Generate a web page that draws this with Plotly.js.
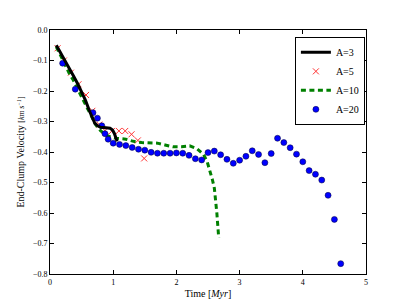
<!DOCTYPE html>
<html>
<head>
<meta charset="utf-8">
<script src="https://cdn.plot.ly/plotly-3.0.1.min.js"></script>
<style>html,body{margin:0;padding:0;background:#fff;}#chart{width:407px;height:305px;}</style>
</head>
<body>
<div id="chart"></div>
<script>
// A=3 (solid black line)
var a3Time = [0.10,0.17,0.24,0.30,0.37,0.44,0.50,0.56,0.63,0.67,0.71,0.76,0.80,0.85,0.90,0.95,0.99,1.02,1.05,1.06];
var a3Vel  = [-0.050,-0.075,-0.100,-0.123,-0.150,-0.177,-0.203,-0.230,-0.268,-0.290,-0.306,-0.315,-0.319,-0.320,-0.320,-0.322,-0.328,-0.340,-0.358,-0.365];

// A=5 (red x markers)
var a5Time = [0.12,0.22,0.33,0.45,0.57,0.67,0.78,0.87,0.98,1.09,1.19,1.29,1.39,1.49];
var a5Vel  = [-0.060,-0.100,-0.140,-0.178,-0.213,-0.265,-0.310,-0.330,-0.331,-0.331,-0.331,-0.342,-0.362,-0.421];

// A=10 (green dashed line)
var a10Time = [0.10,0.20,0.30,0.37,0.45,0.55,0.65,0.72,0.80,0.87,0.95,1.05,1.20,1.32,1.45,1.55,1.70,1.82,1.95,2.08,2.21,2.33,2.43,2.49,2.53,2.57,2.60,2.615,2.63,2.64,2.65,2.66,2.67];
var a10Vel  = [-0.055,-0.100,-0.140,-0.165,-0.200,-0.240,-0.280,-0.310,-0.330,-0.342,-0.350,-0.355,-0.358,-0.365,-0.369,-0.370,-0.371,-0.377,-0.383,-0.383,-0.380,-0.390,-0.408,-0.434,-0.461,-0.491,-0.518,-0.544,-0.573,-0.600,-0.628,-0.655,-0.682];

// A=20 (blue dots)
var a20Time = [0.20,0.40,0.68,0.75,0.82,0.87,0.92,1.00,1.10,1.20,1.30,1.40,1.50,1.60,1.70,1.80,1.90,2.00,2.10,2.20,2.30,2.40,2.50,2.60,2.70,2.80,2.90,3.00,3.10,3.20,3.30,3.40,3.50,3.60,3.70,3.80,3.90,4.00,4.10,4.20,4.30,4.40,4.50,4.60];
var a20Vel  = [-0.109,-0.194,-0.271,-0.289,-0.314,-0.340,-0.358,-0.371,-0.375,-0.379,-0.385,-0.391,-0.394,-0.401,-0.404,-0.404,-0.404,-0.403,-0.404,-0.411,-0.422,-0.426,-0.402,-0.397,-0.409,-0.424,-0.437,-0.427,-0.414,-0.396,-0.408,-0.435,-0.405,-0.355,-0.369,-0.386,-0.407,-0.432,-0.461,-0.473,-0.492,-0.542,-0.621,-0.766];

var xTicks = [0,1,2,3,4,5];
var yTicks = [0,-0.1,-0.2,-0.3,-0.4,-0.5,-0.6,-0.7,-0.8];

var serif = '"Liberation Serif"';

var traces = [
  {x:a5Time, y:a5Vel, name:'A=5', mode:'markers', type:'scatter', legendrank:2,
   marker:{symbol:'x-thin', size:6, line:{color:'#ff3333', width:1}, color:'#ff3333'}},
  {x:a10Time, y:a10Vel, name:'A=10', mode:'lines', type:'scatter', legendrank:3,
   line:{color:'#008000', width:3, dash:'5px,3.5px'}},
  {x:a20Time, y:a20Vel, name:'A=20', mode:'markers', type:'scatter', legendrank:4,
   marker:{symbol:'circle', size:6, color:'#0000ff', line:{color:'#000033', width:0.5}}},
  {x:a3Time, y:a3Vel, name:'A=3', mode:'lines', type:'scatter', legendrank:1,
   line:{color:'#000000', width:3}}
];

var axisCommon = {
  showgrid:false, zeroline:false, showline:true, linecolor:'#000', linewidth:1,
  mirror:'allticks', ticks:'inside', ticklen:4, tickwidth:1, tickcolor:'#000',
  tickfont:{family:serif, size:8, color:'#000'}
};

var layout = {
  width:407, height:305,
  margin:{l:50, r:41, t:30, b:31},
  paper_bgcolor:'#fff', plot_bgcolor:'#fff',
  showlegend:true,
  xaxis:Object.assign({}, axisCommon, {
    range:[0,5], tickvals:xTicks, ticktext:xTicks.map(String),
    title:{text:'Time [<i>Myr</i>]', font:{family:serif, size:10, color:'#000'}, standoff:4}
  }),
  yaxis:Object.assign({}, axisCommon, {
    range:[-0.8,0], tickvals:yTicks, tickformat:'.1f',
    title:{text:'End-Clump Velocity <span style="font-size:8px">[<i>km s<sup>−1</sup></i>]</span>', font:{family:serif, size:10, color:'#000'}, standoff:6}
  }),
  legend:{x:0.775, y:0.972, xanchor:'left', yanchor:'top', bgcolor:'#fff',
    bordercolor:'#000', borderwidth:1, font:{family:serif, size:10, color:'#000'},
    tracegroupgap:0, itemwidth:30},
  font:{family:serif, color:'#000'}
};

Plotly.newPlot('chart', traces, layout, {displayModeBar:false, staticPlot:true});
</script>
</body>
</html>
